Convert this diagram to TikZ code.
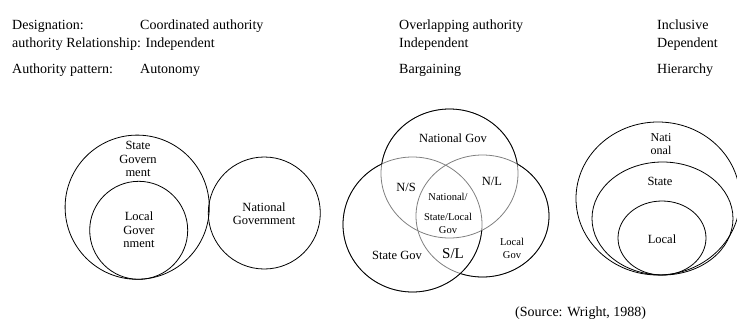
\documentclass[tikz,border=0pt]{standalone}
\usepackage{fontspec}
\setmainfont{Liberation Serif}
\usepackage{tikz}

% circles of the overlapping model
\newcommand{\natgov}{(449.5,173.5) ellipse [x radius=68.5, y radius=64.5]}
\newcommand{\stagov}{(412.5,224.5) ellipse [x radius=69.5, y radius=67.5]}
\newcommand{\locgov}{(482.5,216) ellipse [x radius=66.5, y radius=61]}
\newcommand{\pagebox}{(0,0) rectangle (737,327)}

\begin{document}
\begin{tikzpicture}[
    x=1pt, y=-1pt,
    head/.style={inner sep=0pt, anchor=base west, font=\fontsize{14}{16}\selectfont},
    lbl/.style={inner sep=0pt, align=center, font=\fontsize{12.5}{13.5}\selectfont},
    small/.style={lbl, font=\fontsize{10.5}{13}\selectfont},
    ring/.style={draw=black, line width=0.8pt},
    faint/.style={draw=black!50, line width=0.8pt}
]
\useasboundingbox \pagebox;

% Header
\node[head] (desig) at (12,29.5) {Designation:};
\node[head] (coord) at (140,29.5) {Coordinated authority};
\node[head] (relat) at (12,47.3) {authority Relationship: Independent};
\node[head] (patt) at (12,73.3) {Authority pattern:};
\node[head] (auton) at (140,73.3) {Autonomy};
\node[head] (overl) at (399,29.5) {Overlapping authority};
\node[head] (indep) at (399,47.3) {Independent};
\node[head] (barg) at (399,73.3) {Bargaining};
\node[head] (incl) at (657,29.5) {Inclusive};
\node[head] (dep) at (657,47.3) {Dependent};
\node[head] (hier) at (657,73.3) {Hierarchy};

% Coordinated model
\draw[ring] (137.2,207.2) circle [radius=72.1];
\draw[ring] (138.7,230.3) circle [radius=49];
\draw[ring] (264.3,213) circle [radius=56];
\node[lbl] (cstate) at (138,159) {State\\Govern\\ment};
\node[lbl] (clocal) at (139,230) {Local\\Gover\\nment};
\node[lbl] (cnat) at (264,213.5) {National\\Government};

% Overlapping model
\draw[faint] \natgov;
\draw[faint] \stagov;
\draw[faint] \locgov;
\begin{scope}[even odd rule]
  \clip \pagebox \stagov;
  \clip \pagebox \locgov;
  \draw[ring] \natgov;
\end{scope}
\begin{scope}[even odd rule]
  \clip \pagebox \natgov;
  \draw[ring] \stagov;
  \clip \pagebox \stagov;
  \draw[ring] \locgov;
\end{scope}
\node[lbl] (onat) at (453,138) {National Gov};
\node[lbl] (ons) at (406,187) {N/S};
\node[lbl] (onl) at (492,181) {N/L};
\node[small] (oall) at (448,213) {National/\\[7pt]State/Local\\Gov};
\node[lbl] (ostate) at (397,255) {State Gov};
\node[lbl, font=\fontsize{15}{16}\selectfont] (osl) at (453,254) {S/L};
\node[small] (olocal) at (512,248.5) {Local\\Gov};

% Inclusive model
\draw[ring] (658,198.5) ellipse [x radius=82, y radius=76.5];
\draw[ring] (662.5,218.5) ellipse [x radius=70.5, y radius=56.5];
\draw[ring] (662,238) ellipse [x radius=44, y radius=37];
\node[lbl, font=\fontsize{12}{12.5}\selectfont] (inat) at (661,144) {Nati\\onal};
\node[lbl] (istate) at (660,181) {State};
\node[lbl] (ilocal) at (662,239) {Local};

% Source
\node[head] (src) at (515,316.5) {(Source: Wright, 1988)};
\end{tikzpicture}
\end{document}
